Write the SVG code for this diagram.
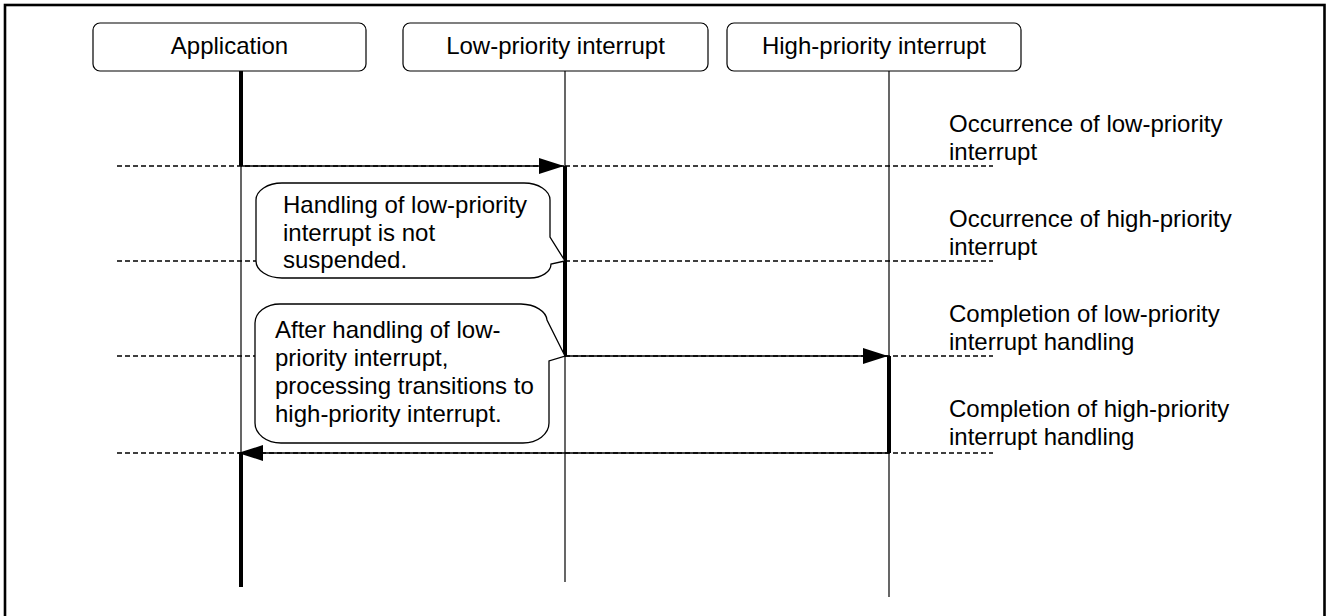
<svg xmlns="http://www.w3.org/2000/svg" width="1328" height="616" viewBox="0 0 1328 616">
<style>
text{font-family:"Liberation Sans",Arial,sans-serif;font-size:24px;fill:#000}
.hdr{fill:#fff;stroke:#000;stroke-width:1.2}
.life{stroke:#000;stroke-width:1.2;fill:none}
.act{stroke:#000;stroke-width:4;fill:none}
.dash{stroke:#000;stroke-width:1.3;stroke-dasharray:5 3;fill:none}
.msg{stroke:#000;stroke-width:1.5;fill:none}
.bubble{fill:#fff;stroke:#000;stroke-width:1.3}
</style>
<defs>
<marker id="ah" markerUnits="userSpaceOnUse" markerWidth="26" markerHeight="17" refX="25" refY="8" orient="auto">
<path d="M0,0 L25,8 L0,16 Z" fill="#000"/>
</marker>
</defs>
<rect x="5" y="5" width="1319.5" height="640" fill="#fff" stroke="#000" stroke-width="2.6"/>
<g id="guides">
<line class="dash" x1="117" y1="166" x2="993" y2="166"/>
<line class="dash" x1="117" y1="261" x2="993" y2="261"/>
<line class="dash" x1="117" y1="356" x2="993" y2="356"/>
<line class="dash" x1="117" y1="453" x2="993" y2="453"/>
</g>
<g id="app">
<rect class="hdr" x="93" y="23" width="273" height="48" rx="7"/>
<text x="229.5" y="54" text-anchor="middle">Application</text>
<line class="life" x1="241" y1="71" x2="241" y2="587"/>
<line class="act" x1="241" y1="71" x2="241" y2="166"/>
<line class="act" x1="241" y1="453" x2="241" y2="587"/>
</g>
<g id="low">
<rect class="hdr" x="403" y="23" width="305" height="48" rx="7"/>
<text x="555.5" y="54" text-anchor="middle">Low-priority interrupt</text>
<line class="life" x1="565" y1="71" x2="565" y2="582"/>
<line class="act" x1="565" y1="166" x2="565" y2="356"/>
</g>
<g id="high">
<rect class="hdr" x="727" y="23" width="294" height="48" rx="7"/>
<text x="874" y="54" text-anchor="middle">High-priority interrupt</text>
<line class="life" x1="889" y1="71" x2="889" y2="597"/>
<line class="act" x1="889" y1="356" x2="889" y2="453"/>
</g>
<g id="connectors">
<line class="msg" x1="241" y1="166" x2="564" y2="166" marker-end="url(#ah)"/>
<line class="msg" x1="565" y1="356" x2="888" y2="356" marker-end="url(#ah)"/>
<line class="msg" x1="889" y1="453" x2="238" y2="453" marker-end="url(#ah)"/>
</g>
<g id="callout1">
<path class="bubble" d="M282,183 H524 A26,17 0 0 1 550,200 V237 L565,261 L551,264 A21,14 0 0 1 530,278 H282 A26,17 0 0 1 256,261 V200 A26,17 0 0 1 282,183 Z"/>
<text x="283" y="213">Handling of low-priority</text>
<text x="283" y="241">interrupt is not</text>
<text x="283" y="268">suspended.</text>
</g>
<g id="callout2">
<path class="bubble" d="M280,304 H521 A27,17 0 0 1 547,320 L565,356 L549,361 V423 A26,20 0 0 1 523,443 H281 A26,20 0 0 1 255,423 V323 A25,19 0 0 1 280,304 Z"/>
<text x="275" y="338">After handling of low-</text>
<text x="275" y="366">priority interrupt,</text>
<text x="275" y="394">processing transitions to</text>
<text x="275" y="422">high-priority interrupt.</text>
</g>
<g id="labels">
<text x="949" y="132">Occurrence of low-priority</text>
<text x="949" y="160">interrupt</text>
<text x="949" y="227">Occurrence of high-priority</text>
<text x="949" y="255">interrupt</text>
<text x="949" y="322">Completion of low-priority</text>
<text x="949" y="350">interrupt handling</text>
<text x="949" y="417">Completion of high-priority</text>
<text x="949" y="445">interrupt handling</text>
</g>
</svg>
